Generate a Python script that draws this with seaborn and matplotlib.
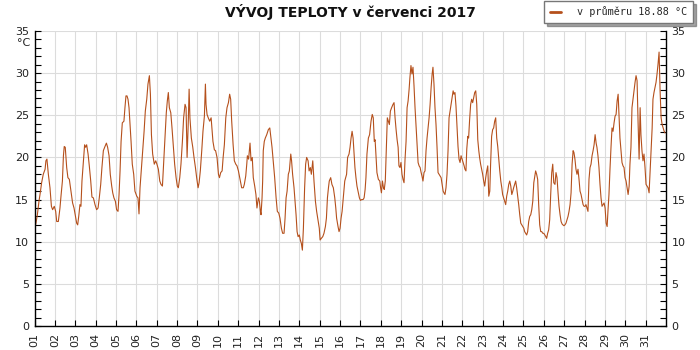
import matplotlib
matplotlib.use("Agg")
import matplotlib.pyplot as plt
import numpy as np
import pandas as pd
import seaborn as sns
from matplotlib.ticker import MultipleLocator
from matplotlib.lines import Line2D

# ---- data (time in days of July, temperature in °C) ----
time_days = [
    1.00, 1.07, 1.14, 1.22, 1.27, 1.35, 1.43, 1.52, 1.56, 1.61, 1.68, 1.76, 1.83, 1.89, 1.97,
    2.04, 2.09, 2.17, 2.25, 2.30, 2.37, 2.42, 2.46, 2.51, 2.58, 2.64, 2.71, 2.79, 2.87, 2.94,
    3.00, 3.07, 3.12, 3.18, 3.23, 3.28, 3.33, 3.40, 3.46, 3.51, 3.56, 3.63, 3.69, 3.76, 3.82, 3.89, 3.97,
    4.05, 4.12, 4.18, 4.25, 4.31, 4.38, 4.46, 4.53, 4.59, 4.66, 4.72, 4.79, 4.84, 4.90, 4.97,
    5.03, 5.10, 5.15, 5.20, 5.25, 5.31, 5.39, 5.44, 5.49, 5.54, 5.59, 5.64, 5.69, 5.74, 5.80, 5.87, 5.93,
    6.02, 6.08, 6.13, 6.18, 6.24, 6.31, 6.38, 6.44, 6.51, 6.57, 6.64, 6.69, 6.74, 6.80, 6.88, 6.95,
    7.01, 7.08, 7.15, 7.21, 7.28, 7.34, 7.41, 7.47, 7.52, 7.57, 7.62, 7.69, 7.75, 7.82, 7.88, 7.95,
    8.01, 8.06, 8.13, 8.19, 8.26, 8.32, 8.39, 8.44, 8.49, 8.54, 8.59, 8.63, 8.70, 8.77, 8.83, 8.90, 8.96,
    9.03, 9.08, 9.14, 9.21, 9.27, 9.34, 9.39, 9.42, 9.47, 9.53, 9.60, 9.67, 9.71, 9.76, 9.83, 9.89, 9.96,
    10.03, 10.08, 10.14, 10.21, 10.26, 10.32, 10.39, 10.45, 10.52, 10.58, 10.63, 10.68, 10.75, 10.81, 10.88, 10.94,
    11.01, 11.17, 11.25, 11.30, 11.37, 11.42, 11.45, 11.51, 11.58, 11.63, 11.69, 11.74, 11.81, 11.87, 11.92, 11.99,
    12.04, 12.09, 12.12, 12.17, 12.20, 12.23, 12.28, 12.33, 12.40, 12.48, 12.55, 12.59, 12.66, 12.72, 12.79, 12.86, 12.92, 12.99,
    13.05, 13.12, 13.18, 13.25, 13.30, 13.35, 13.40, 13.46, 13.51, 13.58, 13.62, 13.67, 13.74, 13.79, 13.84, 13.89, 13.94,
    14.00, 14.05, 14.10, 14.15, 14.20, 14.26, 14.31, 14.36, 14.43, 14.48, 14.54, 14.59, 14.66, 14.72, 14.79, 14.85, 14.93, 14.98,
    15.02, 15.08, 15.15, 15.21, 15.28, 15.33, 15.38, 15.43, 15.47, 15.54, 15.60, 15.67, 15.74, 15.79, 15.83, 15.90, 15.95,
    16.00, 16.05, 16.10, 16.16, 16.23, 16.32, 16.37, 16.44, 16.49, 16.54, 16.59, 16.64, 16.69, 16.73, 16.78, 16.83, 16.90, 16.95,
    17.00, 17.06, 17.13, 17.18, 17.23, 17.27, 17.32, 17.39, 17.45, 17.52, 17.58, 17.63, 17.68, 17.72, 17.77, 17.81, 17.88, 17.95, 17.99,
    18.03, 18.08, 18.13, 18.17, 18.22, 18.27, 18.32, 18.37, 18.42, 18.47, 18.53, 18.60, 18.65, 18.70, 18.75, 18.80, 18.85, 18.89, 18.94, 18.99,
    19.04, 19.09, 19.14, 19.19, 19.24, 19.29, 19.34, 19.39, 19.43, 19.48, 19.53, 19.58, 19.63, 19.68, 19.73, 19.78, 19.83, 19.88, 19.93, 19.98,
    20.02, 20.07, 20.12, 20.17, 20.22, 20.27, 20.32, 20.37, 20.42, 20.47, 20.52, 20.56, 20.61, 20.66, 20.71, 20.76, 20.81, 20.86, 20.91, 20.96,
    21.01, 21.06, 21.10, 21.15, 21.20, 21.25, 21.30, 21.35, 21.40, 21.50, 21.55, 21.59, 21.64, 21.69, 21.74, 21.79, 21.84, 21.89, 21.94, 21.99,
    22.04, 22.09, 22.13, 22.18, 22.22, 22.27, 22.31, 22.36, 22.41, 22.46, 22.51, 22.56, 22.61, 22.66, 22.71, 22.76, 22.81, 22.85, 22.90, 22.95,
    23.00, 23.05, 23.10, 23.15, 23.20, 23.25, 23.30, 23.35, 23.39, 23.44, 23.49, 23.54, 23.59, 23.64, 23.69, 23.74, 23.79, 23.84, 23.89, 23.94, 23.98,
    24.03, 24.08, 24.13, 24.18, 24.23, 24.28, 24.33, 24.38, 24.43, 24.48, 24.52, 24.57, 24.62, 24.67, 24.72, 24.77, 24.82, 24.87, 24.92, 24.97,
    25.02, 25.06, 25.11, 25.16, 25.21, 25.26, 25.31, 25.36, 25.41, 25.46, 25.51, 25.55, 25.60, 25.65, 25.70, 25.75, 25.80, 25.85, 25.90, 25.95,
    26.00, 26.05, 26.10, 26.14, 26.19, 26.24, 26.29, 26.34, 26.39, 26.44, 26.49, 26.55, 26.60, 26.65, 26.70, 26.75, 26.80, 26.85, 26.90, 26.94, 26.99,
    27.04, 27.09, 27.14, 27.19, 27.24, 27.29, 27.34, 27.39, 27.44, 27.48, 27.53, 27.58, 27.63, 27.68, 27.73, 27.78, 27.83, 27.88, 27.93, 27.98,
    28.03, 28.07, 28.12, 28.17, 28.22, 28.27, 28.32, 28.37, 28.42, 28.47, 28.52, 28.57, 28.61, 28.66, 28.71, 28.76, 28.81, 28.86, 28.91, 28.96,
    29.01, 29.06, 29.11, 29.15, 29.20, 29.25, 29.30, 29.35, 29.40, 29.45, 29.50, 29.55, 29.60, 29.65, 29.69, 29.74, 29.79, 29.84, 29.89, 29.94, 29.99,
    30.04, 30.09, 30.14, 30.19, 30.23, 30.28, 30.33, 30.38, 30.43, 30.48, 30.53, 30.58, 30.63, 30.68, 30.73, 30.77, 30.82, 30.87, 30.92, 30.97,
    31.02, 31.07, 31.12, 31.17, 31.22, 31.27, 31.32, 31.36, 31.41, 31.46, 31.51, 31.56, 31.61, 31.66, 31.71, 31.76, 31.81, 31.86, 31.91, 31.95,
]

temp_c = [
    11.4, 12.2, 13.2, 14.8, 15.6, 17.0, 18.0, 18.6, 19.6, 19.8, 18.0, 16.4, 14.2, 13.8, 14.2,
    13.6, 12.4, 12.4, 14.0, 15.4, 17.2, 20.2, 21.3, 21.2, 18.8, 17.6, 17.4, 16.0, 14.6, 14.0,
    13.2, 12.2, 12.0, 13.2, 14.4, 14.2, 17.2, 19.6, 21.5, 21.2, 21.5, 20.4, 19.0, 17.2, 15.3, 15.2, 14.4,
    13.8, 14.0, 15.2, 16.8, 18.8, 20.8, 21.3, 21.7, 21.2, 20.2, 18.0, 16.6, 15.8, 15.2, 14.8,
    13.8, 13.6, 15.6, 18.4, 21.9, 24.1, 24.3, 25.9, 27.3, 27.3, 26.9, 25.9, 23.9, 21.9, 19.2, 18.0, 16.0,
    15.4, 15.2, 13.3, 16.4, 18.4, 20.8, 23.1, 25.5, 26.9, 28.7, 29.7, 27.5, 22.7, 20.4, 19.2, 19.6,
    19.2, 18.6, 17.2, 16.8, 16.6, 19.4, 22.9, 25.3, 26.7, 27.7, 25.9, 25.3, 23.5, 21.2, 19.2, 17.6,
    16.6, 16.4, 17.6, 19.2, 21.9, 24.7, 26.3, 25.9, 20.0, 23.5, 28.1, 24.7, 22.3, 21.2, 20.0, 18.8, 17.6,
    16.4, 17.0, 18.4, 20.8, 23.1, 24.9, 28.7, 26.3, 25.1, 24.7, 24.3, 24.7, 23.5, 21.9, 20.9, 20.8, 20.0,
    18.0, 17.6, 18.2, 18.4, 20.0, 21.5, 24.7, 25.9, 26.5, 27.5, 26.9, 24.3, 21.5, 19.6, 19.2, 19.0,
    18.4, 16.4, 16.4, 16.8, 17.8, 19.2, 20.2, 19.8, 21.7, 19.6, 20.0, 17.6, 16.6, 15.6, 14.0, 15.2,
    14.8, 13.6, 13.2, 15.2, 17.2, 20.8, 21.9, 22.3, 22.7, 23.3, 23.5, 22.7, 21.2, 19.6, 17.6, 15.2, 13.6, 13.4,
    12.8, 11.6, 11.0, 11.0, 12.8, 15.2, 16.0, 18.0, 18.4, 20.4, 19.6, 18.0, 16.4, 14.8, 13.2, 11.2, 10.6,
    10.8, 10.2, 9.8, 9.0, 11.6, 16.4, 19.2, 20.0, 19.6, 18.4, 18.8, 18.0, 19.6, 17.2, 14.8, 13.6, 12.4, 11.6,
    10.2, 10.4, 10.6, 11.0, 11.8, 12.8, 15.2, 16.4, 17.2, 17.6, 16.8, 16.4, 15.2, 14.0, 12.8, 11.8, 11.2,
    11.6, 12.8, 13.6, 15.2, 17.2, 18.0, 20.0, 20.4, 21.2, 22.3, 23.1, 22.3, 20.4, 18.8, 17.6, 16.6, 15.8, 15.2,
    14.9, 15.0, 15.0, 15.2, 16.2, 17.6, 20.4, 22.3, 22.7, 24.3, 25.1, 24.7, 21.9, 22.1, 20.0, 18.2, 17.4, 17.2, 16.4,
    15.8, 17.2, 16.4, 16.2, 17.2, 20.8, 24.7, 24.3, 23.9, 25.5, 25.9, 26.3, 26.5, 24.7, 23.3, 22.1, 21.2, 19.0, 18.8, 19.4,
    18.0, 17.4, 17.0, 19.8, 21.9, 25.9, 26.7, 28.1, 29.5, 30.9, 29.9, 30.7, 28.5, 25.9, 23.7, 21.5, 19.4, 19.0, 18.8, 18.2,
    17.8, 17.2, 18.2, 18.4, 20.8, 22.3, 23.5, 24.7, 26.3, 28.3, 29.9, 30.7, 28.7, 25.9, 23.9, 21.2, 18.2, 18.0, 17.8, 17.6,
    16.8, 16.0, 15.8, 15.6, 16.4, 18.0, 20.8, 24.7, 25.5, 27.1, 27.9, 27.5, 27.7, 26.1, 23.7, 21.3, 19.8, 19.4, 20.2, 19.8,
    19.4, 19.0, 18.6, 18.4, 21.0, 22.5, 22.3, 24.5, 26.3, 26.9, 26.5, 27.1, 27.7, 27.9, 26.3, 22.1, 20.8, 20.0, 19.2, 18.6,
    18.0, 17.2, 16.6, 17.6, 18.4, 19.0, 15.4, 16.0, 19.2, 22.5, 23.3, 23.5, 24.3, 24.7, 22.3, 21.3, 19.8, 18.4, 17.2, 16.4, 15.6,
    15.2, 14.8, 14.4, 15.4, 16.0, 16.8, 17.2, 16.6, 15.6, 16.0, 16.4, 16.8, 17.2, 16.4, 15.4, 14.4, 13.2, 12.2, 12.0, 11.8,
    11.6, 11.2, 11.0, 10.8, 11.2, 12.4, 13.0, 13.2, 13.8, 14.8, 17.0, 17.6, 18.4, 18.0, 17.4, 14.4, 12.0, 11.2, 11.2, 11.0,
    11.0, 10.8, 10.6, 10.4, 11.0, 11.4, 12.6, 15.6, 18.2, 19.2, 17.0, 16.8, 18.2, 17.6, 15.8, 14.2, 13.2, 12.4, 12.1, 12.0, 11.9,
    12.0, 12.2, 12.6, 13.0, 13.6, 14.4, 15.8, 19.2, 20.8, 20.6, 19.8, 18.6, 18.0, 18.6, 17.4, 16.0, 15.6, 15.0, 14.4, 14.2,
    14.2, 14.4, 14.0, 13.6, 17.4, 18.8, 19.2, 20.2, 20.8, 21.5, 22.7, 21.7, 21.2, 20.2, 18.8, 16.8, 15.2, 14.2, 14.4, 14.6,
    14.0, 12.2, 11.8, 13.6, 15.6, 18.6, 21.2, 23.5, 23.1, 24.1, 24.9, 25.1, 26.7, 27.5, 25.3, 22.3, 20.8, 19.4, 19.0, 18.8, 17.6,
    17.2, 16.4, 15.6, 16.6, 19.2, 21.2, 25.9, 26.9, 27.9, 28.9, 29.7, 29.1, 24.1, 19.8, 25.9, 22.7, 20.8, 19.6, 20.4, 18.8,
    16.8, 16.6, 16.4, 15.8, 18.4, 21.2, 23.5, 26.9, 27.7, 28.3, 28.9, 29.9, 31.1, 32.5, 27.9, 24.7, 23.9, 23.5, 23.1, 22.9,
]

day_numbers = list(range(1, 32))
day_labels = [f"{d:02d}" for d in day_numbers]
y_ticks = [0, 5, 10, 15, 20, 25, 30, 35]
title_text = "VÝVOJ TEPLOTY v červenci 2017"
legend_text = "v průměru 18.88 °C"
unit_text = "°C"

line_color = "#b5501c"
grid_color = "#dcdcdc"

sns.set_theme(style="white")
plt.rcParams["font.family"] = ["DejaVu Sans"]

fig = plt.figure(figsize=(7, 3.5), dpi=100)
ax = fig.add_axes([34.5 / 700, 24 / 350, 631.5 / 700, 295 / 350])

df = pd.DataFrame({"day": time_days, "temp": temp_c})
sns.lineplot(data=df, x="day", y="temp", ax=ax, color=line_color,
             linewidth=0.8, estimator=None, sort=False, legend=False)

ax.set_xlim(1, 32)
ax.set_ylim(0, 35)
ax.set_xlabel("")
ax.set_ylabel("")

ax.set_xticks(day_numbers)
ax.set_xticklabels(day_labels, rotation=90)
ax.set_yticks(y_ticks)
ax.yaxis.set_minor_locator(MultipleLocator(1))

ax.grid(True, which="major", color=grid_color, linewidth=0.8)
ax.set_axisbelow(True)

for side in ["left", "bottom", "right"]:
    ax.spines[side].set_visible(True)
    ax.spines[side].set_color("black")
    ax.spines[side].set_linewidth(1.0)
ax.spines["top"].set_visible(False)

ax.tick_params(axis="y", which="both", direction="in", length=4, width=0.8,
               color="black", left=True, right=True, labelleft=True, labelright=True,
               labelsize=8, labelcolor="#222222", pad=4)
ax.tick_params(axis="x", which="major", direction="in", length=4, width=0.8,
               color="black", bottom=True, labelsize=8, labelcolor="#222222", pad=5)

fig.text(24 / 700, 1 - 43 / 350, unit_text, ha="center", va="center",
         fontsize=8, color="#222222")

fig.text(0.5, 1 - 12 / 350, title_text, ha="center", va="center",
         fontsize=10, fontweight="bold", color="#111111")

handle = Line2D([0], [0], color=line_color, linewidth=2)
leg = fig.legend([handle], [legend_text], loc="upper right",
                 bbox_to_anchor=(693 / 700, 1 - 1 / 350), frameon=True,
                 fancybox=False, shadow=True, framealpha=1,
                 edgecolor="#777777", facecolor="white",
                 prop={"family": "DejaVu Sans Mono", "size": 7.3},
                 handlelength=1.1, handletextpad=1.6, borderpad=0.55,
                 borderaxespad=0)
leg.get_frame().set_linewidth(1.0)

fig.savefig("out.png", dpi=100)
